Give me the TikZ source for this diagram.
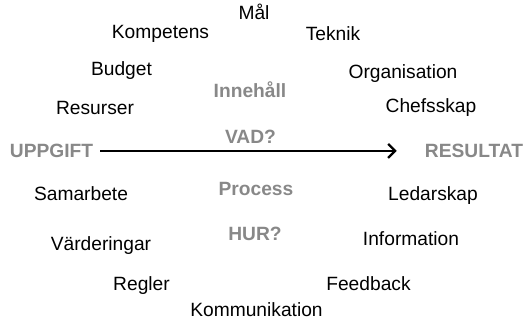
\documentclass[tikz,border=0pt]{standalone}
\usepackage{fontspec}
\setmainfont{Liberation Sans}
\usepackage{tikz}
\usetikzlibrary{arrows.meta}
\definecolor{headgray}{RGB}{136,136,136}
\tikzset{
    x=1pt, y=-1pt, % one unit per pixel, y pointing down
    word/.style={anchor=base, inner sep=0pt, font=\fontsize{19.2}{22}\selectfont}, % plain factor words
    head/.style={word, font=\fontsize{19.2}{22}\selectfont\bfseries, text=headgray}, % grey headings
    flow/.style={line width=2.3pt, -{Straight Barb[length=7pt, width=14pt, line width=2.3pt]}}, % main arrow
}
\begin{document}
\begin{tikzpicture}
    \useasboundingbox (0,0) rectangle (528,321);
    % what: upper half
    \node[word] (mal) at (254,20) {Mål};
    \node[word] (komp) at (160.5,39) {Kompetens};
    \node[word] (tekn) at (333,41) {Teknik};
    \node[word] (budg) at (121.5,76) {Budget};
    \node[word] (orga) at (403,78) {Organisation};
    \node[head] (inne) at (250,98) {Innehåll};
    \node[word] (resu) at (95,114) {Resurser};
    \node[word] (chef) at (431,113) {Chefsskap};
    \node[head] (vad) at (250.5,143) {VAD?};
    % task to result
    \node[head] (uppg) at (51.5,157.5) {UPPGIFT};
    \node[head] (resl) at (474,157.5) {RESULTAT};
    \draw[flow, shorten <=7pt, shorten >=28pt] (uppg.east) -- (resl.west);
    % how: lower half
    \node[head] (proc) at (256,195) {Process};
    \node[word] (sama) at (81,200) {Samarbete};
    \node[word] (leda) at (433,200.5) {Ledarskap};
    \node[head] (hur) at (255,240.5) {HUR?};
    \node[word] (vard) at (101,250.5) {Värderingar};
    \node[word] (info) at (411,245) {Information};
    \node[word] (regl) at (141.5,290) {Regler};
    \node[word] (feed) at (368.5,290) {Feedback};
    \node[word] (komm) at (256.5,316.5) {Kommunikation};
\end{tikzpicture}
\end{document}
